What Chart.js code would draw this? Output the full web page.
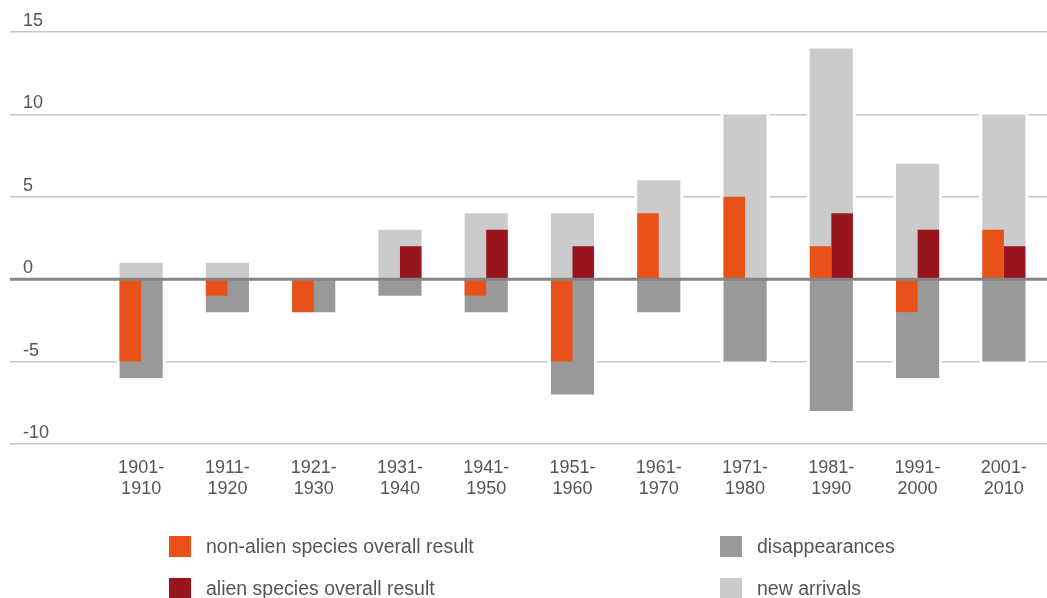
<!DOCTYPE html>
<html>
<head>
<meta charset="utf-8">
<script src="https://cdn.jsdelivr.net/npm/chart.js@4"></script>
<style>
  html, body { margin: 0; padding: 0; background: #fff; overflow: hidden; }
  #wrap { position: relative; width: 1047px; height: 598px; }
  #legend { position: absolute; left: 0; top: 0; width: 1047px; height: 598px; pointer-events: none;
            font-family: "Liberation Sans", Arial, sans-serif; font-size: 19.5px; color: #555; }
  .item { position: absolute; display: flex; align-items: center; height: 22px; }
  .box { width: 22px; height: 21px; margin-right: 15px; }
</style>
</head>
<body>
<div id="wrap">
  <canvas id="chart" width="1047" height="598"></canvas>
  <div id="legend"></div>
</div>
<script>
const categories = [
  ['1901-', '1910'], ['1911-', '1920'], ['1921-', '1930'], ['1931-', '1940'],
  ['1941-', '1950'], ['1951-', '1960'], ['1961-', '1970'], ['1971-', '1980'],
  ['1981-', '1990'], ['1991-', '2000'], ['2001-', '2010']
];
const nonAlien       = [-5, -1, -2, 0, -1, -5, 4, 5, 2, -2, 3];
const alien          = [0, 0, 0, 2, 3, 2, 0, 0, 4, 3, 2];
const disappearances = [-6, -2, -2, -1, -2, -7, -2, -5, -8, -6, -5];
const newArrivals    = [1, 1, 0, 3, 4, 4, 6, 10, 14, 7, 10];
const yTicks = [-10, -5, 0, 5, 10, 15];

Chart.defaults.font.family = '"Liberation Sans", Arial, sans-serif';
Chart.defaults.font.size = 18;
Chart.defaults.color = '#555';

// white gap round the grey bars, and the zero line on top of everything
const barHalo = {
  id: 'barHalo',
  beforeDatasetsDraw(chart) {
    const ctx = chart.ctx;
    ctx.save();
    ctx.fillStyle = '#fff';
    chart.data.datasets.forEach((ds, i) => {
      if (ds.grouped !== false) return;
      chart.getDatasetMeta(i).data.forEach((bar, j) => {
        if (!ds.data[j]) return;
        const p = bar.getProps(['x', 'y', 'base', 'width']);
        const top = Math.min(p.y, p.base);
        const bottom = Math.max(p.y, p.base);
        ctx.fillRect(p.x - p.width / 2 - 3, top - 3, p.width + 6, bottom - top + 6);
      });
    });
    ctx.restore();
  },
  afterDatasetsDraw(chart) {
    const ctx = chart.ctx;
    const y = chart.scales.y.getPixelForValue(0);
    const left = chart.chartArea.left - chart.scales.y.options.grid.tickLength;
    ctx.save();
    ctx.strokeStyle = '#858585';
    ctx.lineWidth = 3;
    ctx.beginPath();
    ctx.moveTo(left, y);
    ctx.lineTo(chart.chartArea.right, y);
    ctx.stroke();
    ctx.restore();
  }
};

const chart = new Chart(document.getElementById('chart'), {
  type: 'bar',
  plugins: [barHalo],
  data: {
    labels: categories,
    datasets: [
      { label: 'non-alien species overall result', data: nonAlien, backgroundColor: '#e8521a',
        categoryPercentage: 0.5, barPercentage: 1 },
      { label: 'alien species overall result', data: alien, backgroundColor: '#98141f',
        categoryPercentage: 0.5, barPercentage: 1 },
      { label: 'disappearances', data: disappearances, backgroundColor: '#999999',
        grouped: false, categoryPercentage: 1, barPercentage: 0.5 },
      { label: 'new arrivals', data: newArrivals, backgroundColor: '#cbcbcb',
        grouped: false, categoryPercentage: 1, barPercentage: 0.5 }
    ]
  },
  options: {
    responsive: false,
    animation: false,
    layout: { padding: { left: 23, top: 32, right: -11, bottom: 0 } },
    plugins: { legend: { display: false }, tooltip: { enabled: false } },
    scales: {
      x: {
        type: 'category',
        offset: true,
        grid: { display: false, drawTicks: false },
        border: { display: false },
        ticks: { padding: 13, color: '#555', maxRotation: 0, autoSkip: false },
        afterFit: s => { s.height = 154; }
      },
      y: {
        min: -10,
        max: 15,
        afterBuildTicks: s => { s.ticks = yTicks.map(v => ({ value: v })); },
        afterFit: s => { s.width = 75; },
        grid: { color: '#c6c6c6', lineWidth: 1.5, tickLength: 88, drawTicks: true },
        border: { display: false },
        ticks: { crossAlign: 'far', padding: 0, labelOffset: -11, color: '#555' }
      }
    }
  }
});

// legend in two columns, built from the datasets
const legendSlots = [[169, 535], [169, 577], [720, 535], [720, 577]];
const legend = document.getElementById('legend');
chart.data.datasets.forEach((ds, i) => {
  const item = document.createElement('div');
  item.className = 'item';
  item.style.left = legendSlots[i][0] + 'px';
  item.style.top = legendSlots[i][1] + 'px';
  item.innerHTML = '<span class="box" style="background:' + ds.backgroundColor + '"></span><span>' + ds.label + '</span>';
  legend.appendChild(item);
});
</script>
</body>
</html>
